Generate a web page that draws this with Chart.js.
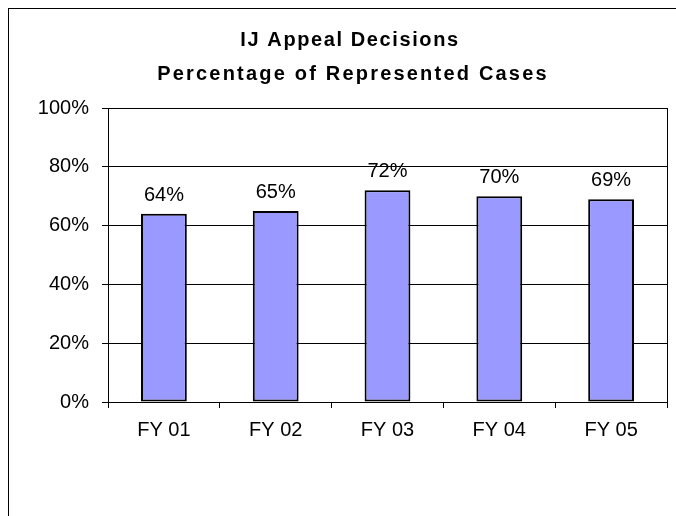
<!DOCTYPE html>
<html>
<head>
<meta charset="utf-8">
<script src="https://cdn.jsdelivr.net/npm/chart.js@4/dist/chart.umd.min.js"></script>
<style>
  html, body { margin: 0; padding: 0; background: #fff; }
  #wrap { width: 676px; height: 516px; }
</style>
</head>
<body>
<div id="wrap"><canvas id="chart"></canvas></div>
<script>
const categories = ["FY 01", "FY 02", "FY 03", "FY 04", "FY 05"];
const represented = [64, 65, 72, 70, 69];
const titleLines = ["IJ Appeal Decisions", "Percentage of Represented Cases"];

const FONT = "'Liberation Sans', Arial, sans-serif";

// outer frame, plot frame, title and value labels
const decorations = {
  id: "decorations",
  beforeDraw(chart) {
    const ctx = chart.ctx;
    ctx.save();
    ctx.fillStyle = "#fff";
    ctx.fillRect(0, 0, chart.width, chart.height);
    ctx.strokeStyle = "#000";
    ctx.lineWidth = 1;
    ctx.strokeRect(8.5, 8.5, 800, 800);
    ctx.restore();
  },
  afterDraw(chart) {
    const ctx = chart.ctx;
    const area = chart.chartArea;
    ctx.save();
    ctx.strokeStyle = "#000";
    ctx.lineWidth = 1;
    ctx.beginPath();
    ctx.moveTo(Math.round(area.right) + 0.5, area.top);
    ctx.lineTo(Math.round(area.right) + 0.5, area.bottom);
    ctx.stroke();

    // title
    ctx.fillStyle = "#000";
    ctx.font = "bold 20px " + FONT;
    ctx.textAlign = "center";
    ctx.textBaseline = "alphabetic";
    ctx.letterSpacing = "1.6px";
    ctx.fillText(titleLines[0], 350, 46);
    ctx.letterSpacing = "2.2px";
    ctx.fillText(titleLines[1], 353, 80);

    // value labels
    ctx.letterSpacing = "0px";
    ctx.font = "20px " + FONT;
    const meta = chart.getDatasetMeta(0);
    meta.data.forEach((bar, i) => {
      ctx.fillText(represented[i] + "%", bar.x, bar.y - 13);
    });
    ctx.restore();
  }
};

new Chart(document.getElementById("chart"), {
  type: "bar",
  data: {
    labels: categories,
    datasets: [{
      data: represented,
      backgroundColor: "#9999FF",
      borderColor: "#000",
      borderWidth: 2,
      borderSkipped: false,
      categoryPercentage: 1,
      barPercentage: 0.41
    }]
  },
  options: {
    responsive: true,
    maintainAspectRatio: false,
    animation: false,
    layout: { padding: { top: 108, left: 8, right: 9, bottom: 0 } },
    plugins: {
      legend: { display: false },
      title: { display: false },
      tooltip: { enabled: false }
    },
    scales: {
      x: {
        afterFit(scale) { scale.height = 114; },
        grid: {
          offset: true,
          drawOnChartArea: false,
          drawTicks: true,
          tickLength: 6,
          color: "#000"
        },
        border: { color: "#000", width: 1 },
        ticks: {
          color: "#000",
          padding: 10,
          font: { family: FONT, size: 20 }
        }
      },
      y: {
        min: 0,
        max: 100,
        afterFit(scale) { scale.width = 100; },
        grid: { color: "#000", tickLength: 6 },
        border: { color: "#000", width: 1 },
        ticks: {
          stepSize: 20,
          color: "#000",
          padding: 13,
          font: { family: FONT, size: 20 },
          callback: v => v + "%"
        }
      }
    }
  },
  plugins: [decorations]
});
</script>
</body>
</html>
